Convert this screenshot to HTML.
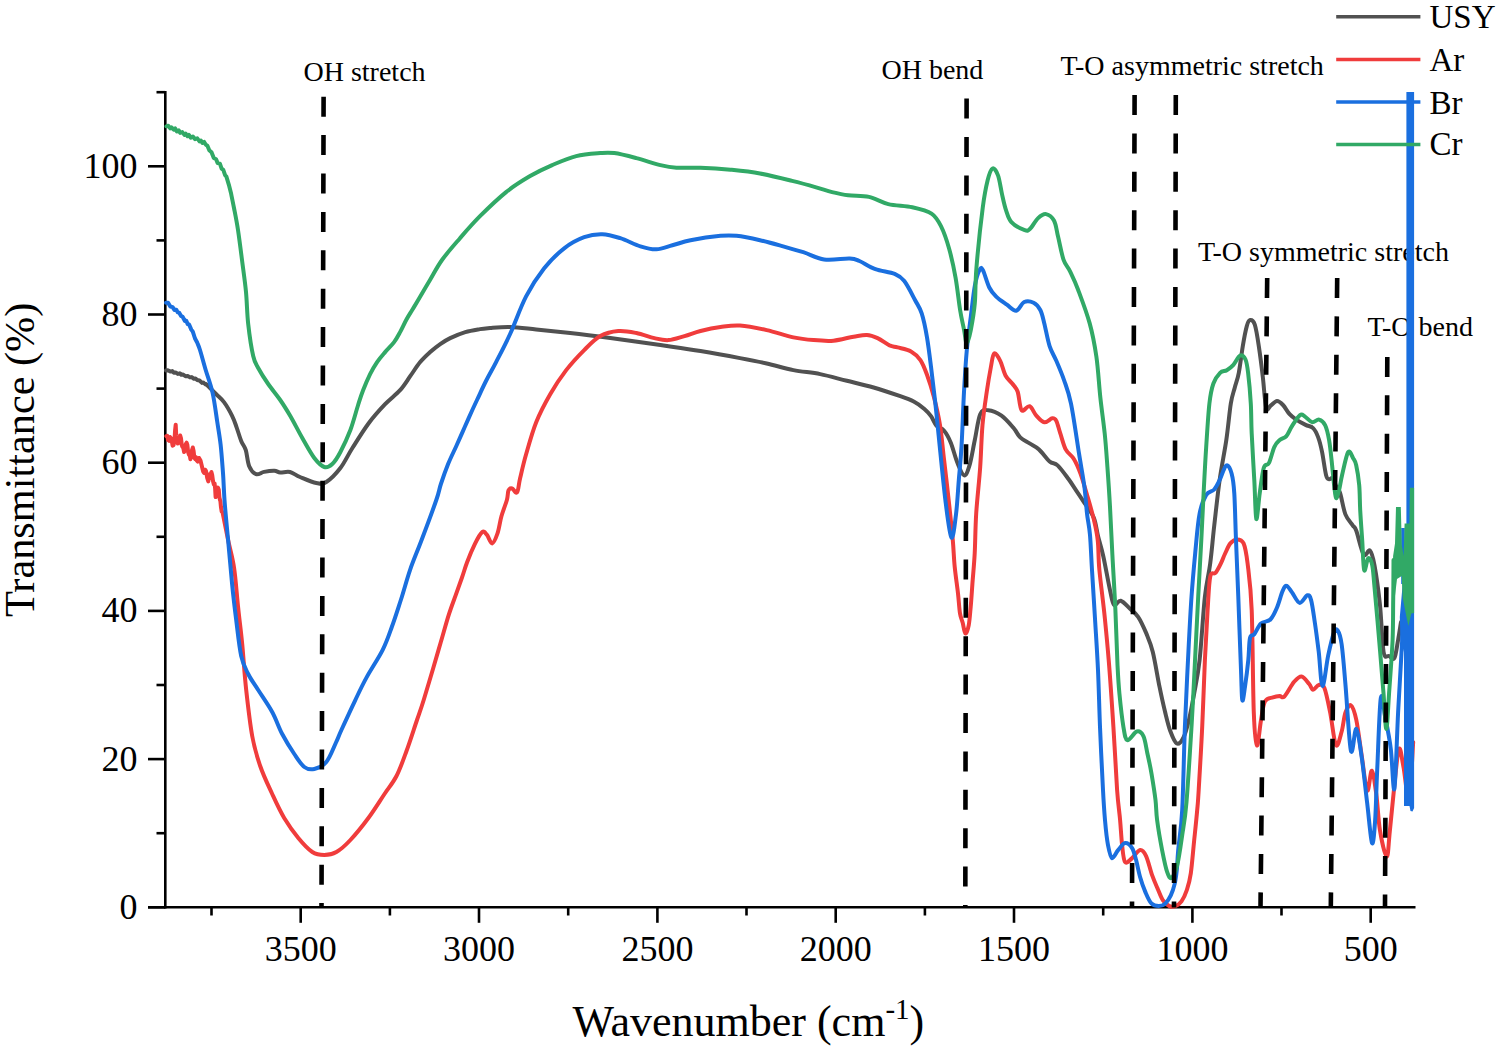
<!DOCTYPE html>
<html><head><meta charset="utf-8"><style>
html,body{margin:0;padding:0;background:#fff;}
body{width:1500px;height:1048px;overflow:hidden;}
svg{display:block;}
text{font-family:"Liberation Serif",serif;fill:#000;}
</style></head><body>
<svg width="1500" height="1048" viewBox="0 0 1500 1048">
<rect width="1500" height="1048" fill="#fff"/>

<g font-size="28">
<text x="303.5" y="80.7">OH stretch</text>
<text x="881.5" y="79">OH bend</text>
<text x="1060.5" y="75.2">T-O asymmetric stretch</text>
<text x="1198" y="260.9">T-O symmetric stretch</text>
<text x="1367.5" y="335.6">T-O bend</text>
</g>
<g stroke="#000" stroke-width="2.6" fill="none">
<line x1="165.3" y1="91" x2="165.3" y2="908.6"/>
<line x1="148" y1="907.3" x2="1415.5" y2="907.3"/>
<line x1="148" y1="907.3" x2="165.3" y2="907.3"/>
<line x1="156.5" y1="833.2" x2="165.3" y2="833.2"/>
<line x1="148" y1="759.1" x2="165.3" y2="759.1"/>
<line x1="156.5" y1="685" x2="165.3" y2="685"/>
<line x1="148" y1="610.9" x2="165.3" y2="610.9"/>
<line x1="156.5" y1="536.8" x2="165.3" y2="536.8"/>
<line x1="148" y1="462.7" x2="165.3" y2="462.7"/>
<line x1="156.5" y1="388.6" x2="165.3" y2="388.6"/>
<line x1="148" y1="314.5" x2="165.3" y2="314.5"/>
<line x1="156.5" y1="240.4" x2="165.3" y2="240.4"/>
<line x1="148" y1="166.3" x2="165.3" y2="166.3"/>
<line x1="156.5" y1="92.2" x2="165.3" y2="92.2"/>
<line x1="211.5" y1="907.3" x2="211.5" y2="915.5"/>
<line x1="300.7" y1="907.3" x2="300.7" y2="922.8"/>
<line x1="389.9" y1="907.3" x2="389.9" y2="915.5"/>
<line x1="479" y1="907.3" x2="479" y2="922.8"/>
<line x1="568.2" y1="907.3" x2="568.2" y2="915.5"/>
<line x1="657.4" y1="907.3" x2="657.4" y2="922.8"/>
<line x1="746.5" y1="907.3" x2="746.5" y2="915.5"/>
<line x1="835.7" y1="907.3" x2="835.7" y2="922.8"/>
<line x1="924.9" y1="907.3" x2="924.9" y2="915.5"/>
<line x1="1014" y1="907.3" x2="1014" y2="922.8"/>
<line x1="1103.2" y1="907.3" x2="1103.2" y2="915.5"/>
<line x1="1192.4" y1="907.3" x2="1192.4" y2="922.8"/>
<line x1="1281.5" y1="907.3" x2="1281.5" y2="915.5"/>
<line x1="1370.7" y1="907.3" x2="1370.7" y2="922.8"/>
</g>
<g fill="none" stroke-width="4.0" stroke-linejoin="round" stroke-linecap="round">
<path stroke="#515151" d="M166 370.5 L167.8 370.2 L170.3 371.5 L172.3 371.1 L173.8 372.7 L175.9 372.5 L177.8 373.9 L179.7 373.3 L181.3 374.8 L182.8 374.4 L185.4 376.2 L187.7 376 L190 377.4 L191.7 377.1 L194 378.8 L195.5 378.5 L197.2 380 L199.5 380.5 L202 382.9 L203.5 382.6 L205.4 384.4 L205.4 384.4C205.7 384.5 205.4 383.3 206.9 384.9C208.7 386.5 213.2 391.1 216 394C218.8 396.9 221.3 398.5 224 402.1C226.7 405.7 230 411.6 232.1 415.8C234.2 420 235.1 423.1 236.6 427.3C238.1 431.5 239.7 437.2 241.2 441C242.7 444.8 244.5 446 245.8 450.2C247.1 454.4 247.5 462.2 249.2 466.2C250.9 470.2 253.6 473.2 256.1 474.2C258.6 475.1 261.1 472.5 264.1 471.9C267.2 471.3 271.7 470.7 274.4 470.8C277.1 470.9 277.6 472.3 280.2 472.5C282.8 472.7 286.7 471.2 290 472C293.3 472.8 295.6 475.2 300 477C304.4 478.8 311.9 482.2 316.3 483C320.7 483.8 322.3 484.5 326.3 482C330.3 479.5 336 473.7 340.4 468C344.8 462.3 347.7 455.4 352.4 448C357.1 440.6 363.1 430.8 368.5 423.5C373.9 416.2 379.8 409.8 385.1 404.2C390.4 398.6 395.9 394.9 400.1 390.2C404.3 385.5 406.9 380.9 410.2 376.2C413.5 371.5 416.9 366.1 420.2 362.1C423.5 358.1 426.9 355.1 430.2 352.1C433.5 349.1 436.9 346.4 440.2 344.1C443.5 341.8 446 340.1 450.2 338.1C454.4 336.1 460.3 333.6 465.3 332.1C470.3 330.6 475.9 329.8 480 329.1C484.1 328.4 485.1 328.4 490.1 328C495.1 327.6 502.4 326.8 510.1 327C517.8 327.2 526.2 328.4 536.2 329.4C546.2 330.4 557.9 331.6 570.2 333C582.6 334.4 595.3 336 610.3 338C625.3 340 645.4 342.8 660.4 345C675.4 347.2 687.2 348.8 700.5 351C713.8 353.2 729 356 740 358.1C751 360.2 757.8 361.5 766.7 363.5C775.6 365.5 784.5 368.3 793.4 370.1C802.3 371.9 811.3 372.3 820.2 374.1C829.1 375.9 838 378.6 846.9 380.8C855.8 383 864.7 384.9 873.6 387.5C882.5 390.1 893.6 393.9 900.3 396.2C907 398.5 909.7 399.4 913.7 401.5C917.7 403.6 921.5 406.4 924.4 408.9C927.3 411.3 929 413.4 931 416.2C933 419 934.2 423.2 936.4 425.6C938.6 428 941.7 427.9 944.1 430.7C946.5 433.5 948.6 437.3 950.8 442.7C953 448.1 955.2 457.4 957.4 462.8C959.6 468.2 962.1 475 964.1 475.4C966.1 475.8 967.7 471.3 969.5 465.4C971.3 459.5 973 448.5 974.8 440C976.6 431.5 978 419.2 980.2 414.2C982.4 409.2 984.7 410 988.2 410.2C991.8 410.4 997.3 412.6 1001.5 415.6C1005.7 418.6 1010.5 424.4 1013.6 428C1016.7 431.6 1017.5 434.8 1020.2 437.4C1022.9 440 1026.5 441.4 1029.6 443.4C1032.7 445.4 1035.7 446.4 1039 449.4C1042.3 452.4 1046.5 458.7 1049.6 461.4C1052.7 464.1 1054.5 462.5 1057.6 465.4C1060.7 468.3 1065.2 474.6 1068.3 478.8C1071.4 483 1073.7 486.8 1076.4 490.8C1079.1 494.8 1081.5 498.4 1084.4 502.8C1087.3 507.2 1091.4 512 1093.7 517.5C1096 523 1096.4 529.5 1098 536C1099.6 542.5 1101.4 547.7 1103.4 556.7C1105.4 565.7 1108.2 582.1 1110 590.1C1111.8 598.1 1112.2 603 1114 604.8C1115.8 606.6 1118 600.1 1120.7 600.8C1123.4 601.5 1127.2 606.1 1130.1 608.8C1133 611.5 1135.4 612.8 1138.1 616.8C1140.8 620.8 1143.6 627 1146.1 632.9C1148.5 638.8 1150.6 643 1152.8 652C1155 661 1157.5 676.9 1159.5 686.7C1161.5 696.5 1163 703.4 1164.8 710.8C1166.6 718.1 1168.2 725.3 1170.2 730.8C1172.2 736.2 1174.6 742.4 1176.8 743.5C1179 744.6 1181.5 741.4 1183.5 737.5C1185.5 733.6 1187.1 727.5 1188.9 720.1C1190.7 712.8 1192.4 703.4 1194.2 693.4C1196 683.4 1197.8 676.1 1199.6 660C1201.4 643.9 1203.1 612.9 1204.9 596.8C1206.7 580.7 1208.7 575.2 1210.2 563.4C1211.8 551.6 1212.6 539.9 1214.2 526C1215.8 512.1 1217.6 494.5 1219.6 480.2C1221.6 465.9 1224.4 452.9 1226.3 440.1C1228.2 427.3 1229.4 412.4 1230.8 403.6C1232.2 394.8 1233.5 392.6 1234.8 387.5C1236.1 382.4 1237.5 379.7 1238.8 372.8C1240.1 365.9 1241.5 353.9 1242.8 346.1C1244.1 338.3 1245.6 330.4 1246.8 326.1C1248 321.8 1248.8 320.3 1250.1 320.1C1251.4 319.9 1253.3 320.4 1254.8 324.7C1256.2 329 1257.5 337.4 1258.8 346.1C1260.1 354.8 1261.6 366.5 1262.8 376.8C1264 387.1 1264.9 403.2 1266.2 408C1267.5 412.8 1269 406.7 1270.8 405.5C1272.6 404.3 1275 401.1 1277 401C1279 400.9 1280.9 402.8 1283 405C1285.1 407.2 1287.4 411.8 1289.6 414.2C1291.8 416.6 1293.5 417.8 1296.2 419.6C1298.9 421.4 1302.8 423.5 1305.6 424.9C1308.4 426.3 1311 426.1 1313.1 428.1C1315.2 430.1 1316.6 433.1 1318.1 437.1C1319.6 441.1 1320.8 445.8 1322.1 452.1C1323.4 458.5 1324.9 470.7 1326.1 475.2C1327.3 479.7 1327.9 478.7 1329.1 479.2C1330.2 479.7 1331.8 476.9 1333 478C1334.2 479.1 1334.8 483.6 1336 486C1337.2 488.4 1338.4 488 1340 492.7C1341.6 497.4 1343.3 509 1345.4 514.4C1347.5 519.8 1350.9 522.6 1352.7 525.3C1354.5 528 1354.5 525.9 1356.3 530.8C1358.1 535.6 1361.3 551.1 1363.6 554.4C1365.9 557.7 1368.2 548.9 1370 550.7C1371.8 552.5 1372.8 556.2 1374.5 565.3C1376.2 574.4 1378.5 590.8 1380 605.2C1381.5 619.7 1382.1 643.5 1383.6 652C1385.1 660.5 1387.2 655 1389 656C1390.8 657 1392.9 660.8 1394.4 658.1C1395.9 655.4 1397 646 1398.1 640C1399.2 634 1400.5 625 1401 622"/>
<path stroke="#F03C3C" d="M166.3 436.2 L167.2 435.9 L168 440 L169 440.8 L170 437 L171.3 438.5 L172.6 445.7 L173.6 445 L174.5 440 L175.1 430.1 L175.7 424.7 L176.2 435.2 L176.8 441 L177.3 440.5 L177.8 443.6 L178.7 442.8 L179.5 437.5 L180.2 435.5 L181 438.3 L181.8 445.3 L182.5 447 L183.3 447.9 L184.1 452 L184.9 450 L185.8 444 L186.6 442.7 L187.3 444.6 L188.2 452.5 L189 455 L189.7 454.6 L190.4 459.3 L191.2 456.2 L192 450 L192.8 447.5 L193.6 451 L194.4 457.9 L195.2 459 L195.9 457.2 L196.7 460.4 L197.8 461.6 L199 458 L200.5 460.6 L202 466.7 L203.1 471.4 L204.1 473 L205.1 469.7 L206 471 L207.2 477.8 L208.3 481.4 L209.2 475.9 L210 474 L210.7 474.9 L211.4 472 L212.2 475 L213 481 L213.8 484.4 L214.6 483.5 L215.1 488.1 L215.6 497.1 L216.3 496.3 L217 490 L217.9 487.6 L218.8 489.8 L219.4 497.4 L220 500 L220.4 501.1 L220.9 506.6 L221.7 511.8 L222.5 512 L222.5 512C223.4 516.7 226.2 530.7 228.1 540C230 549.3 232.4 556.7 234.1 568C235.8 579.3 236.8 595.3 238.2 608C239.5 620.7 240.9 630.3 242.2 644C243.5 657.7 244.5 674.7 246.2 690C247.9 705.3 249.9 723.3 252.2 736C254.5 748.7 256.9 756.3 260.2 766C263.5 775.7 268.2 785.3 272.2 794C276.2 802.7 279.8 810.7 284.2 818C288.6 825.3 293.6 832.3 298.3 838C303 843.7 308 849.2 312.3 852C316.6 854.8 320.3 855 324.3 855C328.3 855 332 854.5 336.4 852C340.8 849.5 345.1 845.7 350.4 840C355.7 834.3 362.7 825.7 368.4 818C374.1 810.3 379.8 801 384.5 794C389.2 787 392.8 783.2 396.5 776C400.2 768.8 403.1 760.3 406.5 751C409.9 741.7 414.1 728.5 417 720C419.9 711.5 421.1 708.5 423.7 700C426.3 691.5 430 679 432.9 669.3C435.8 659.6 438.2 650.9 440.9 641.8C443.6 632.6 446.4 622.2 448.9 614.4C451.4 606.6 453.6 601 455.8 594.9C458 588.8 460.1 582.9 462 577.5C463.9 572.1 464.9 568.1 467 562.5C469.1 556.9 472.3 549.2 474.8 544.1C477.3 539 480.2 533.7 482.2 532.1C484.2 530.5 485.1 532.8 486.8 534.7C488.5 536.6 490.4 543.6 492.2 543.4C494 543.2 495.9 538 497.5 533.4C499.1 528.8 499.9 521.6 501.5 516C503.1 510.4 505.7 504.3 506.9 500C508.1 495.7 507.6 492.3 508.5 490.4C509.4 488.5 510.7 488.1 512.1 488.4C513.5 488.7 515.8 494.1 517.1 492.4C518.4 490.7 518.6 484.6 520.1 478.3C521.6 472 523.4 463.7 526.1 454.3C528.8 444.9 532.2 432.2 536.2 422.2C540.2 412.2 545.2 402.9 550.2 394.2C555.2 385.5 560.5 377.5 566.2 370.1C571.9 362.8 578.5 355.8 584.2 350.1C589.9 344.4 594.6 339.3 600.3 336.1C606 332.9 612.3 331.5 618.3 331C624.3 330.5 630.4 331.8 636.4 333C642.4 334.2 649.1 336.9 654.4 338.1C659.7 339.3 663.4 340.4 668.4 340.1C673.4 339.8 679.1 337.6 684.5 336.1C689.9 334.6 694.5 332.5 700.5 331C706.5 329.5 713.9 327.9 720.5 327C727.1 326.1 732.3 325 740 325.5C747.7 326 757.8 328.1 766.7 330.1C775.6 332.1 785.6 335.7 793.4 337.4C801.2 339.1 806.8 339.6 813.5 340.1C820.2 340.7 826.8 341.3 833.5 340.7C840.2 340.1 848 337.6 853.6 336.7C859.2 335.8 862.9 334.8 866.9 335C870.9 335.2 873.8 336.4 877.6 338.1C881.4 339.8 886.3 343.8 889.6 345.4C892.9 346.9 894 346.4 897.6 347.4C901.2 348.4 907.2 349.3 911 351.4C914.8 353.5 917.7 356.2 920.4 360.1C923.1 364 924.8 368.8 927 374.8C929.2 380.8 931.5 387.8 933.7 396.2C935.9 404.6 938.3 414.4 940 425C941.7 435.6 942.5 446.5 944.1 460.1C945.7 473.7 948 493.4 949.4 506.8C950.8 520.1 951.9 530.2 952.8 540.2C953.7 550.2 953.8 557.8 954.7 566.7C955.6 575.6 957.1 585.6 958 593.4C958.9 601.2 959.2 608.5 960 613.4C960.8 618.3 961.8 619.4 962.7 622.8C963.6 626.1 964.4 633.1 965.4 633.5C966.4 633.9 967.8 629.9 968.7 625.4C969.6 620.9 970 614.4 970.7 606.8C971.4 599.2 972 588.9 972.7 580C973.4 571.1 974.1 564.5 974.7 553.4C975.3 542.3 975.3 527.9 976.2 513.5C977.1 499.1 979.2 481.6 980.2 466.8C981.2 452.1 981.4 437.6 982.5 425C983.6 412.4 985.4 401.1 986.8 391.5C988.2 381.9 989.6 373.8 990.8 367.5C992 361.2 992.6 354.6 994.2 353.5C995.8 352.4 998.3 357.1 1000.2 360.8C1002.1 364.5 1003.5 371.7 1005.5 375.5C1007.5 379.3 1010.2 380.8 1012.2 383.5C1014.2 386.2 1016 387.1 1017.6 391.5C1019.2 395.9 1019.6 407.8 1021.6 410.2C1023.6 412.6 1027.1 405.3 1029.6 406.2C1032 407.1 1033.8 412.9 1036.3 415.6C1038.8 418.3 1041.6 421.9 1044.3 422.3C1047 422.8 1050.3 418.5 1052.3 418.3C1054.3 418.1 1055 418.4 1056.3 420.9C1057.6 423.4 1058.7 428.6 1060.3 433.4C1061.9 438.1 1063.5 445.2 1065.7 449.4C1067.9 453.6 1071.2 454.7 1073.7 458.7C1076.2 462.7 1078.2 467.4 1080.4 473.4C1082.6 479.4 1084.8 487.2 1087 494.8C1089.2 502.4 1091.9 511.4 1093.7 518.9C1095.5 526.4 1096.8 531.5 1097.7 540C1098.7 548.5 1098.2 557.3 1099.4 570.1C1100.6 582.9 1103.2 601.8 1104.7 616.8C1106.2 631.8 1107.2 641.7 1108.7 660C1110.2 678.3 1112 705.1 1113.4 726.8C1114.8 748.5 1116 774.5 1117.1 790C1118.2 805.5 1119.3 810.9 1120.1 820.1C1120.9 829.3 1121.3 838.1 1122.1 845.1C1122.9 852.1 1123.4 859.9 1125.1 862.1C1126.8 864.3 1129.6 860.1 1132.1 858.1C1134.6 856.1 1137.8 850.4 1140.1 850.1C1142.4 849.8 1144.1 851.9 1146.1 856.1C1148.1 860.3 1150.2 869.9 1152.1 875.2C1154 880.5 1155.6 884 1157.4 888.1C1159.2 892.2 1160.8 897.1 1162.8 900.1C1164.8 903.1 1167.3 905.1 1169.4 906.1C1171.5 907.1 1173.4 906.9 1175.4 906.1C1177.4 905.3 1179.6 904.1 1181.5 901.4C1183.4 898.7 1185.2 894.8 1186.8 890.1C1188.3 885.4 1189.6 881.7 1190.8 873.4C1192 865.1 1193.1 850.7 1194.2 840.1C1195.3 829.5 1196.5 818.4 1197.2 810C1198 801.6 1197.9 803.9 1198.7 790C1199.5 776.1 1201.2 748.5 1202.2 726.8C1203.2 705.1 1204 679.4 1204.9 660C1205.8 640.6 1206.7 624.1 1207.6 610.2C1208.5 596.3 1208.9 583 1210.2 576.8C1211.5 570.6 1213.8 575 1215.6 572.8C1217.4 570.6 1219.4 566.5 1220.9 563.4C1222.5 560.3 1223.3 557.3 1224.9 554C1226.5 550.7 1228.3 545.8 1230.3 543.4C1232.3 541 1234.8 539.4 1237 539.4C1239.2 539.4 1241.8 539.4 1243.6 543.4C1245.4 547.4 1246.2 552.3 1247.6 563.4C1248.9 574.5 1250.7 585.3 1251.7 610.2C1252.7 635.1 1252.9 690.2 1253.8 712.7C1254.7 735.2 1255.8 744.3 1257 745.5C1258.2 746.7 1259.7 727.5 1261 720.1C1262.3 712.8 1263 705.2 1265 701.4C1267 697.6 1270.5 698.3 1273 697.4C1275.5 696.5 1277.8 696.2 1279.7 696.1C1281.6 696 1282 698.8 1284.4 696.5C1286.8 694.2 1291.1 685.5 1293.9 682.1C1296.8 678.8 1299 676.1 1301.5 676.4C1304 676.7 1307.3 681.8 1309.2 684C1311.1 686.2 1311.4 689.6 1313 689.8C1314.6 690 1316.8 685.3 1318.7 685C1320.6 684.7 1322.5 683.3 1324.4 687.9C1326.3 692.5 1328.3 703.2 1330.2 712.7C1332.1 722.2 1334 741.9 1335.9 745.1C1337.8 748.3 1340 737.2 1341.6 731.8C1343.2 726.4 1343.9 717 1345.4 712.6C1347 708.2 1349.1 704.1 1350.9 705.3C1352.7 706.5 1354.5 711.4 1356.3 719.9C1358.1 728.4 1360 744.4 1361.8 756.2C1363.6 768 1365.5 788.2 1367.2 790.6C1368.9 793 1370.3 770.1 1371.8 770.7C1373.3 771.3 1374.9 784.4 1376.3 794.3C1377.7 804.2 1378.2 819.6 1379.9 830C1381.6 840.4 1385.1 856.5 1386.7 856.7C1388.3 857 1388.5 843.4 1389.8 831.5C1391.1 819.6 1392.9 799 1394.4 785.2C1395.9 771.4 1397.5 751.9 1399 748.9C1400.5 745.9 1401.8 758.5 1403.5 767C1405.2 775.5 1407.4 803.8 1409 799.7C1410.6 795.6 1412.5 751.8 1413.2 742.2"/>
<path stroke="#1A6FDF" d="M166 302.8 L168.1 302.8 L170.3 306.5 L172.6 307.1 L174.4 309.9 L176.3 309.7 L177.7 312.4 L179.2 312.7 L181.1 316 L182.6 316.8 L184.9 320.9 L186.3 320.8 L187.7 324.1 L189.1 324.5 L191.3 329.6 L192.8 331.7 L195 338.5 L197.3 342.8 L197.3 342.8C197.7 344 198.6 345.5 200 350C201.4 354.5 203.6 362.9 205.7 370C207.8 377.1 210.7 384.3 212.6 392.9C214.5 401.5 215.9 412.9 217.2 421.5C218.5 430.1 219.6 435.8 220.6 444.4C221.6 453 222.3 463.7 223 473C223.7 482.3 223.7 488.8 224.5 500C225.3 511.2 226.8 526 228.1 540C229.4 554 230.8 570.7 232.1 584C233.4 597.3 234.7 608 236.2 620C237.7 632 239.2 647 241.2 656C243.2 665 245.4 668.3 248.2 674C251 679.7 254.2 683.7 258.2 690C262.2 696.3 268.2 704.7 272.2 712C276.2 719.3 278.5 727 282.2 734C285.9 741 290.6 748.5 294.3 754C298 759.5 301 764.5 304.3 767C307.6 769.5 310.6 769.8 314.3 769C318 768.2 322.7 766.4 326.3 762C329.9 757.6 333.5 747.8 336 742.5C338.5 737.2 338.2 737 341.4 730C344.6 723 351 709.1 355.2 700.3C359.4 691.5 362 685.8 366.6 677.4C371.2 669 378.5 658.3 382.7 649.9C386.9 641.5 388.8 635.4 391.8 627C394.9 618.6 397.9 609 401 599.5C404.1 590 406.7 579.7 410.1 569.8C413.5 559.9 417.2 551.6 421.6 540C426 528.4 433.1 509.3 436.3 500C439.5 490.7 438.9 490 440.9 484C442.9 478 445.6 470.4 448.1 464.1C450.6 457.9 453.7 451.8 456.1 446.5C458.5 441.2 460.4 436.9 462.5 432.1C464.6 427.3 466.5 423 468.9 417.6C471.3 412.2 474.1 406.1 477 400C479.9 393.9 482.8 387.3 486 381C489.2 374.7 492.1 369.9 496.1 362.1C500.1 354.3 505.1 344.9 510.1 334C515.1 323.1 520.4 307.3 526.1 296.4C531.8 285.4 537.9 276.3 544.2 268.3C550.6 260.3 557.5 253.5 564.2 248.3C570.9 243.1 577.9 239.5 584.2 237.2C590.6 234.8 596.3 234 602.3 234.2C608.3 234.4 613.9 236.2 620.3 238.2C626.6 240.2 634.4 244.5 640.4 246.3C646.4 248.2 651.1 249.5 656.4 249.3C661.7 249.1 666.7 246.8 672.4 245.3C678.1 243.8 682.5 241.8 690.5 240.2C698.5 238.6 712.8 236.5 720.5 235.8C728.2 235.1 729.9 235.1 736.5 235.8C743.1 236.5 752.1 238.4 760 240.2C767.9 242 776.8 244.6 784 246.6C791.2 248.6 796.6 250.1 803.3 252.2C810 254.3 816.4 258.3 824.1 259.4C831.9 260.5 843.9 258.3 849.8 258.6C855.7 258.9 855.1 259.2 859.4 261C863.7 262.8 869.5 267 875.4 269.1C881.3 271.2 889.9 271.9 894.7 273.9C899.5 275.9 900.9 276.8 904.3 281.1C907.7 285.5 912.1 294.6 915 300C917.9 305.4 919.7 307.2 921.7 313.4C923.7 319.6 925.5 328.5 927 337.4C928.5 346.3 929.7 356.3 931 366.8C932.3 377.3 933.6 388 935 400.2C936.4 412.4 937.4 423.3 939.1 440C940.8 456.7 943.4 483.9 945.4 500.2C947.4 516.5 949.6 535.4 951.4 537.6C953.2 539.8 954.9 523.1 956.1 513.5C957.3 503.9 957.9 491.2 958.8 480.1C959.7 469 960.6 461.7 961.5 446.7C962.4 431.7 963.2 406.3 964.1 390.2C965 374.1 965.7 362.4 966.8 350.1C967.9 337.9 969.4 327.6 970.8 316.7C972.2 305.8 973.5 292.8 975 285C976.5 277.2 978.3 272.4 979.6 269.9C980.9 267.4 981.2 267 982.8 269.9C984.4 272.8 987.1 283 989.3 287.5C991.5 292 993.3 293.8 996.2 296.7C999.1 299.6 1003.6 302.4 1006.9 304.7C1010.2 307 1013.3 311.1 1016.2 310.7C1019.1 310.2 1021.3 303.3 1024.2 302C1027.1 300.7 1030.9 301.4 1033.6 302.7C1036.3 304 1038.5 306.6 1040.3 310C1042.1 313.4 1042.8 317.4 1044.3 323.4C1045.8 329.4 1047.6 339.9 1049.6 346.1C1051.6 352.3 1053.8 355 1056.3 360.8C1058.8 366.6 1061.8 373.7 1064.3 380.8C1066.8 387.9 1068.5 391.5 1071 403.6C1073.5 415.7 1076.8 439.5 1079 453.4C1081.2 467.3 1083.1 476.8 1084.4 486.8C1085.7 496.8 1086.1 505.5 1087 513.5C1087.9 521.5 1089.2 525.6 1090 535C1090.8 544.4 1091.1 555.4 1092 570.1C1092.9 584.9 1094.3 606.9 1095.3 623.5C1096.3 640.1 1097.2 652.8 1098 670C1098.8 687.2 1099.2 706.8 1100 726.8C1100.8 746.8 1102.2 774.5 1103 790C1103.8 805.5 1104.2 810.9 1105 820.1C1105.8 829.3 1106.8 838.8 1108 845.1C1109.2 851.4 1110.3 857.3 1112 858.1C1113.7 858.9 1115.9 852.6 1118.1 850.1C1120.3 847.6 1122.8 843.4 1125.1 843.1C1127.4 842.8 1130.3 845.3 1132.1 848.1C1133.9 850.9 1134.8 855.3 1136.1 860.1C1137.4 864.9 1138.5 871.4 1140 876.7C1141.5 882 1143.5 887.7 1145.4 892.1C1147.3 896.5 1149.2 901.1 1151.4 903.4C1153.6 905.7 1156.4 906.1 1158.7 906.1C1161 906.1 1163.4 905.2 1165.4 903.4C1167.4 901.6 1169.2 898.7 1170.8 895.4C1172.4 892.1 1173.8 887.6 1174.8 883.4C1175.8 879.2 1176.2 875.5 1176.8 870C1177.4 864.5 1177.3 860.1 1178.2 850.1C1179.1 840.1 1181.1 830.5 1182.2 810C1183.3 789.5 1183.9 751.8 1184.9 726.8C1185.9 701.8 1186.9 681.7 1188 660C1189.1 638.3 1190.2 615.1 1191.5 596.8C1192.8 578.5 1194.2 563.9 1195.5 550C1196.8 536.1 1197.8 522.8 1199.6 513.6C1201.4 504.4 1203.8 498.9 1206.2 494.9C1208.6 490.9 1212 491.9 1214.2 489.5C1216.4 487.1 1217.6 484.2 1219.6 480.2C1221.6 476.2 1224.3 466.6 1226.3 465.5C1228.3 464.4 1230.3 468.8 1231.6 473.5C1232.9 478.2 1233.6 482.4 1234.3 493.5C1235 504.6 1235.3 522.8 1236 540C1236.7 557.2 1237.5 575.1 1238.3 596.8C1239.1 618.5 1240.3 652.8 1241 670C1241.7 687.2 1241.6 697.3 1242.3 700.1C1243 702.9 1244 693.4 1245 686.7C1246 680 1247.5 668.1 1248.3 660C1249.1 651.9 1249 642.3 1250 638C1251 633.7 1252.5 636.6 1254.3 634.2C1256.1 631.8 1258.3 626 1261 623.5C1263.7 621 1267.7 622.2 1270.4 619.5C1273.1 616.8 1275 612.2 1277 607.5C1279 602.8 1280.9 595.1 1282.4 591.5C1284 587.9 1284.7 585.6 1286.3 585.8C1287.9 585.9 1289.8 589.5 1292 592.4C1294.2 595.2 1297 602.4 1299.6 602.9C1302.1 603.4 1305.4 595.8 1307.3 595.3C1309.2 594.8 1309.8 595.5 1311.1 600.1C1312.4 604.7 1313.6 614.4 1314.9 623C1316.2 631.6 1317.4 641.1 1318.7 651.6C1320 662.1 1320.9 685.4 1322.5 686C1324.1 686.6 1326.3 664.3 1328.2 655.4C1330.1 646.5 1332.4 636.6 1334 632.5C1335.6 628.4 1336.5 628.7 1337.8 630.6C1339.1 632.5 1340.3 635.1 1341.6 644C1342.9 652.9 1343.9 666.2 1345.4 684C1347 701.8 1349.1 743.2 1350.9 750.7C1352.7 758.2 1354.5 727.7 1356.3 728.9C1358.1 730.1 1360 745.6 1361.8 758C1363.6 770.4 1365.5 789.1 1367.2 803.3C1368.9 817.5 1370.7 840 1372 843C1373.3 846 1374.2 833.2 1375.1 821C1376 808.8 1376.2 790.5 1377.2 770C1378.2 749.5 1379.4 706.8 1380.8 698.1C1382.2 689.4 1383.7 709.5 1385.4 718C1387.1 726.5 1389.3 737.1 1390.8 748.9C1392.3 760.7 1393.2 794.8 1394.4 788.8C1395.6 782.8 1396.9 735.9 1398.1 712.6C1399.3 689.3 1400.8 665.4 1401.7 649.1C1402.6 632.8 1403.2 620.7 1403.5 615"/>
</g>
<path fill="#1A6FDF" d="M1406.4 92 L1414.1 92 L1414.1 808 L1412.5 811.5 L1410.5 811 L1409.5 806 L1404 806 L1404 652 L1400.5 640 L1399.8 617 L1402.7 584 L1406.4 580 Z"/>
<rect x="1401.2" y="528" width="3.6" height="56" fill="#1A6FDF"/>
<g fill="none" stroke-width="4.0" stroke-linejoin="round" stroke-linecap="round">
<path stroke="#31A966" d="M166.4 126.3 L168.2 125.7 L170.2 128.3 L171.5 127.4 L173.7 129.6 L175.2 128.4 L176.9 131.5 L178.7 130.3 L180.1 132.9 L182.3 132.1 L184.4 134.9 L185.7 133.6 L187.6 136.2 L188.9 134.9 L190.7 137.7 L192.9 136.5 L195.1 139.2 L197.3 138.4 L199.5 141.4 L200.9 140.5 L202.4 143 L204.1 141.9 L205.7 144.6 L207.4 145.7 L209.3 150.3 L211.5 152.2 L213.8 158 L216.1 159.2 L217.6 163 L219.9 163.7 L221.7 168.8 L223.2 169.7 L225.1 175.2 L226.4 176.6 L228.8 184.6 L230.9 192.7 L230.9 192.7C231.4 195.2 232.8 201.8 234 208C235.2 214.2 236.7 221.3 238 230C239.3 238.7 240.7 249.7 242 260C243.3 270.3 245 281.3 246 292C247 302.7 247 313.3 248.2 324C249.4 334.7 251.5 348.7 253.2 356C254.9 363.3 255.7 363.3 258.2 368C260.7 372.7 264.5 378.7 268.2 384C271.9 389.3 276.5 394.7 280.2 400C283.9 405.3 286.6 409.7 290.3 416C294 422.3 298.3 431 302.3 438C306.3 445 310.6 453.2 314.3 458C318 462.8 321.3 466 324.3 467C327.3 468 329.6 466.5 332.3 464C335 461.5 337.4 457.7 340.4 452C343.4 446.3 347.4 437.8 350.4 430C353.3 422.2 356 411.6 358.1 405C360.2 398.4 361.1 395.3 363.1 390.2C365.1 385.1 367.8 378.8 370.1 374.1C372.4 369.4 374.6 365.8 377.1 362.1C379.6 358.4 382.3 355.4 385.1 352.1C387.9 348.8 391.6 345.4 394.1 342.1C396.6 338.8 398.1 335.8 400.1 332.1C402.1 328.4 404.2 323.7 406.2 320C408.2 316.3 410.2 313.3 412.2 310C414.2 306.7 415.2 305 418.2 300C421.2 295 426 286.7 430 280C434 273.3 437 267 442 260C447 253 453.7 245.5 460 238.2C466.3 230.9 472.3 223.9 480 216.2C487.7 208.5 497.8 198.8 506.1 192.1C514.5 185.4 522.4 180.6 530.1 176.1C537.8 171.6 544.5 168.4 552.2 165.1C559.9 161.8 568.2 158.1 576.2 156.1C584.2 154.1 593.9 153.6 600.3 153.1C606.6 152.6 608.3 152.3 614.3 153.1C620.3 153.9 628.7 156.1 636.4 158.1C644.1 160.1 653.7 163.5 660.4 165.1C667.1 166.7 669.7 167.3 676.4 167.7C683.1 168.1 691.5 167.4 700.5 167.7C709.5 168 720.6 168.7 730.5 169.7C740.4 170.7 749.7 171.6 760 173.5C770.3 175.4 782.8 178.6 792.1 180.9C801.5 183.2 809.4 185.4 816.1 187.3C822.8 189.2 826.8 190.8 832.1 192.1C837.5 193.4 842.1 194.5 848.2 195.3C854.4 196.1 862.3 195.4 869 196.9C875.7 198.4 881.1 202.4 888.3 204.1C895.5 205.8 905.1 205.7 912.3 207.3C919.5 208.9 926.7 210.5 931.5 213.7C936.3 216.9 938.2 220.7 941.2 226.6C944.2 232.5 946.8 240.4 949.2 249C951.6 257.6 953.8 267.7 955.6 277.9C957.4 288.1 958.7 301.3 960.1 310C961.5 318.7 963 324.5 964.1 330.1C965.2 335.7 965.7 343.4 966.8 343.4C967.9 343.4 969.5 336.8 970.8 330.1C972.1 323.4 973.9 313.7 974.8 303.4C975.7 293.1 975.1 284.3 976.4 268.3C977.7 252.3 980.9 222 982.8 207.3C984.7 192.6 986.1 186.6 987.7 180.1C989.3 173.6 990.9 169.3 992.6 168.5C994.3 167.7 996.4 171.1 998 175.4C999.6 179.7 1000.7 188.3 1002 194.1C1003.3 199.9 1004.4 205.4 1006 210.1C1007.6 214.8 1008.3 218.8 1011.4 222.1C1014.5 225.4 1021.6 229.1 1024.7 230.2C1027.8 231.3 1027.9 230.8 1030.1 228.8C1032.3 226.8 1035.4 220.6 1038.1 218.1C1040.8 215.6 1043.4 213.6 1046.1 214.1C1048.8 214.6 1052.1 217 1054.1 220.8C1056.1 224.6 1056.5 230.3 1058.1 236.8C1059.7 243.3 1061.5 253.8 1063.5 259.6C1065.5 265.4 1067.8 266.6 1070.2 271.6C1072.6 276.6 1074.8 280.9 1078 289.5C1081.2 298.1 1086.6 312.2 1089.7 323.4C1092.8 334.6 1094.6 344.4 1096.4 356.8C1098.2 369.2 1099 385.2 1100.4 398C1101.8 410.8 1103.5 421.9 1104.7 433.4C1105.9 444.9 1106.5 454.6 1107.4 466.8C1108.3 479.1 1109.2 492.2 1110 506.9C1110.8 521.6 1111.5 537.8 1112.4 555C1113.3 572.2 1114.6 591.9 1115.4 610.2C1116.2 628.5 1116.8 651.1 1117.5 665C1118.2 678.9 1118.4 683.1 1119.4 693.4C1120.4 703.7 1122.1 719 1123.4 726.8C1124.7 734.6 1125.2 739.4 1127.4 740.2C1129.6 741 1134.1 732.2 1136.8 731.5C1139.5 730.8 1141.6 732.5 1143.4 736.2C1145.2 739.9 1146.1 747.3 1147.4 753.5C1148.8 759.7 1150.2 765.9 1151.5 773.6C1152.8 781.4 1154.6 792.2 1155.5 800C1156.4 807.8 1156 811.8 1157.1 820.1C1158.2 828.5 1160.4 841.4 1162.1 850.1C1163.8 858.8 1165.6 867.6 1167.2 872.2C1168.8 876.8 1169.8 879 1171.5 877.8C1173.2 876.6 1175.4 872.3 1177.2 865.2C1179 858.1 1180.7 845.6 1182.2 835.1C1183.8 824.6 1185 820 1186.5 802C1188 784 1190.1 749.6 1191.5 726.8C1192.9 704 1193.7 686.7 1194.8 665C1195.9 643.3 1197.1 617.6 1198.2 596.8C1199.3 576 1200.4 557.2 1201.3 540C1202.2 522.8 1202.8 509 1203.6 493.5C1204.4 478 1205.2 461.8 1206.2 446.8C1207.2 431.8 1208.2 414.2 1209.4 403.6C1210.6 393.1 1211.6 388.6 1213.4 383.5C1215.2 378.4 1217.9 375 1220.1 372.8C1222.3 370.6 1224.6 371.5 1226.8 370.2C1229 368.9 1231.2 367.2 1233.4 364.8C1235.6 362.4 1238.1 356.4 1240.1 355.5C1242.1 354.6 1244.2 356.6 1245.5 359.5C1246.8 362.4 1247.2 365.4 1248.1 372.8C1249 380.2 1250.2 393.5 1250.8 403.6C1251.4 413.7 1251.1 420.6 1251.7 433.4C1252.3 446.2 1253.5 465.9 1254.3 480.2C1255.1 494.4 1255.4 516.7 1256.3 518.9C1257.2 521.1 1258.5 502 1259.7 493.5C1260.9 485 1262.2 473.2 1263.7 468.1C1265.2 463 1267.2 466.4 1269 462.8C1270.8 459.2 1272.6 450.6 1274.4 446.8C1276.2 443 1277.7 441.9 1279.7 440.1C1281.7 438.3 1284.4 438.4 1286.4 436.1C1288.5 433.8 1289.7 429.6 1292 426.1C1294.3 422.6 1297.8 416.7 1300 415.1C1302.2 413.5 1303 415.4 1305 416.6C1307 417.8 1309.8 421.6 1312.1 422.1C1314.4 422.6 1316.9 419.1 1319.1 419.6C1321.3 420.1 1323.4 421.7 1325.1 425.1C1326.8 428.5 1327.9 433.4 1329.1 440.1C1330.3 446.8 1331.3 457.7 1332.1 465.2C1332.9 472.7 1333.4 479.5 1334.1 485C1334.8 490.5 1335.3 497.3 1336.1 498.1C1336.9 498.9 1338.1 493.9 1339.1 490C1340.1 486.1 1340.6 481.3 1342.1 475C1343.6 468.7 1346.3 454.9 1348.1 452.1C1349.9 449.3 1351.8 456 1353.1 458.2C1354.4 460.4 1355.2 460.7 1356.2 465.2C1357.2 469.7 1358.5 477.5 1359.2 485C1359.9 492.5 1359.7 500.9 1360.2 510.1C1360.7 519.3 1361.5 530.1 1362.2 540.1C1362.9 550.1 1363.2 567.2 1364.2 570.2C1365.2 573.2 1366.9 559 1368.2 558.2C1369.5 557.4 1371.2 560.4 1372.2 565.2C1373.2 570 1373.2 572.9 1374.5 587C1375.8 601.1 1378.5 632.1 1380 650C1381.5 667.9 1382.5 681.2 1383.6 694.4C1384.6 707.5 1385.4 728.9 1386.3 728.9C1387.2 728.9 1388 709.2 1389 694.4C1390 679.6 1391.9 655.7 1392.6 640C1393.2 624.3 1393 613.3 1393.2 600C1393.4 586.7 1393.5 566.7 1393.5 560"/>
</g>
<path fill="#31A966" d="M1392.3 622 L1393.1 556 L1395 543.5 L1396 507 L1400.8 507 L1401.8 545 L1403.6 556 L1404.6 523.4 L1409.4 523.4 L1409.8 487.7 L1414.1 487.7 L1414.1 613 L1411.3 613.4 L1408.4 626 L1406.5 617 L1402.7 598 L1401.7 576 L1397 579 L1394.5 600 Z"/>
<line x1="323.6" y1="96.7" x2="321.5" y2="907.5" stroke="#000" stroke-width="4.6" stroke-dasharray="20 18.4"/>
<line x1="966.6" y1="98.6" x2="965.3" y2="907.5" stroke="#000" stroke-width="4.6" stroke-dasharray="20 18.4"/>
<line x1="1134.6" y1="95" x2="1132" y2="907.5" stroke="#000" stroke-width="4.6" stroke-dasharray="20 18.4"/>
<line x1="1175.8" y1="95" x2="1174" y2="907.5" stroke="#000" stroke-width="4.6" stroke-dasharray="20 18.4"/>
<line x1="1267.2" y1="278" x2="1260.5" y2="907.5" stroke="#000" stroke-width="4.6" stroke-dasharray="20 18.4"/>
<line x1="1337.2" y1="278" x2="1330.8" y2="907.5" stroke="#000" stroke-width="4.6" stroke-dasharray="20 18.4"/>
<line x1="1387.3" y1="356.9" x2="1385" y2="907.5" stroke="#000" stroke-width="4.6" stroke-dasharray="20 18.4"/>
<g font-size="36" text-anchor="middle">
<text x="300.7" y="961">3500</text>
<text x="479" y="961">3000</text>
<text x="657.4" y="961">2500</text>
<text x="835.7" y="961">2000</text>
<text x="1014" y="961">1500</text>
<text x="1192.4" y="961">1000</text>
<text x="1370.7" y="961">500</text>
</g>
<g font-size="36" text-anchor="end">
<text x="137.5" y="918.8">0</text>
<text x="137.5" y="770.6">20</text>
<text x="137.5" y="622.4">40</text>
<text x="137.5" y="474.2">60</text>
<text x="137.5" y="326">80</text>
<text x="137.5" y="177.8">100</text>
</g>
<text x="572.5" y="1036" font-size="44">Wavenumber (cm<tspan font-size="29" dy="-17">-1</tspan><tspan dy="17">)</tspan></text>
<text transform="translate(34.4,617) rotate(-90)" font-size="42.3">Transmittance (%)</text>
<g stroke-width="3.5" stroke-linecap="butt">
<line x1="1336.2" y1="16.7" x2="1420.4" y2="16.7" stroke="#515151"/>
<line x1="1336.2" y1="59.5" x2="1420.4" y2="59.5" stroke="#F03C3C"/>
<line x1="1336.2" y1="102" x2="1420.4" y2="102" stroke="#1A6FDF"/>
<line x1="1336.2" y1="144.5" x2="1420.4" y2="144.5" stroke="#31A966"/>
</g>
<g font-size="33">
<text x="1429.5" y="27.9">USY</text>
<text x="1429.5" y="70.6">Ar</text>
<text x="1429.5" y="113.5">Br</text>
<text x="1429.5" y="155">Cr</text>
</g>
</svg></body></html>
